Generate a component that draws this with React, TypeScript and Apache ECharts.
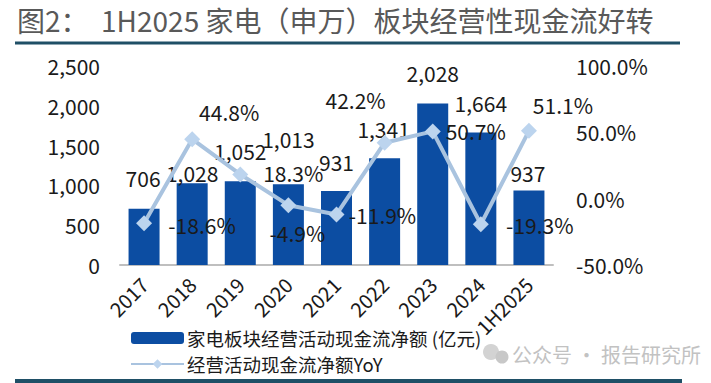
import React, { useEffect, useRef } from "react";
import * as echarts from "echarts";

const categories = ["2017", "2018", "2019", "2020", "2021", "2022", "2023", "2024", "1H2025"];
const cashFlow = [706, 1028, 1052, 1013, 931, 1341, 2028, 1664, 937];
const yoy = [-18.6, 44.8, 18.3, -4.9, -11.9, 42.2, 50.7, -19.3, 51.1];
const leftTicks = { min: 0, max: 2500, interval: 500 };
const rightTicks = { min: -50, max: 100, interval: 50 };
const barName = "家电板块经营活动现金流净额 (亿元)";
const lineName = "经营活动现金流净额YoY";
const titleText = "图2：  1H2025 家电（申万）板块经营性现金流好转";
const watermark = "公众号 · 报告研究所";

// label placement tweaks (pixels), not data
const barLabelOffsets = [[-1, -15], [0, 5], [0, -15], [0, -30], [0, -13], [-1, -14], [0, -15], [0, -14], [-1, -2]];
const yoyLabelOffsets = [[58, 2], [37, -27], [53, -1], [9, 28], [46, 1], [-29, -43], [43, 0], [59, 1], [34, -26]];

const FONT = '"Noto Sans CJK SC", "Noto Sans", sans-serif';
const TXT = "#1a1a1a";

export default function App() {
  const ref = useRef<HTMLDivElement>(null);
  useEffect(() => {
    const chart = echarts.init(ref.current!, null, { renderer: "svg" });
    chart.setOption({
      animation: false,
      backgroundColor: "#ffffff",
      textStyle: { fontFamily: FONT },
      grid: { left: 120, right: 158, top: 66, bottom: 118, containLabel: false },
      legend: {
        orient: "vertical",
        left: 130,
        top: 328,
        padding: 0,
        itemWidth: 53,
        itemHeight: 12,
        itemGap: 6,
        textStyle: { fontFamily: FONT, fontSize: 18.5, lineHeight: 20, color: TXT, padding: [0, 0, 0, -2] },
        data: [barName, lineName],
      },
      xAxis: {
        type: "category",
        data: categories,
        axisLine: { lineStyle: { color: "#bfbfbf", width: 2 } },
        axisTick: { show: false },
        axisLabel: { rotate: 45, fontSize: 20, color: TXT, margin: 16, interval: 0, fontFamily: FONT },
      },
      yAxis: [
        {
          type: "value",
          ...leftTicks,
          axisLine: { show: false },
          axisTick: { show: false },
          splitLine: { show: false },
          axisLabel: {
            fontSize: 21,
            color: TXT,
            margin: 20,
            fontFamily: FONT,
            formatter: (v: number) => v.toLocaleString("en-US"),
          },
        },
        {
          type: "value",
          ...rightTicks,
          axisLine: { show: false },
          axisTick: { show: false },
          splitLine: { show: false },
          axisLabel: {
            fontSize: 21,
            color: TXT,
            margin: 23,
            fontFamily: FONT,
            formatter: (v: number) => v.toFixed(1) + "%",
          },
        },
      ],
      series: [
        {
          name: barName,
          type: "bar",
          barWidth: 31,
          itemStyle: { color: "#0c4da2" },
          data: cashFlow.map((v, i) => ({
            value: v,
            label: { offset: barLabelOffsets[i] },
          })),
          label: {
            show: true,
            position: "top",
            distance: 5,
            fontSize: 21,
            color: TXT,
            fontFamily: FONT,
            formatter: (p: any) => Number(p.value).toLocaleString("en-US"),
          },
          z: 2,
        },
        {
          name: lineName,
          type: "line",
          yAxisIndex: 1,
          symbol: "diamond",
          symbolSize: 16,
          lineStyle: { color: "#a9c3df", width: 4 },
          itemStyle: { color: "#bcd4ee" },
          data: yoy.map((v, i) => ({
            value: v,
            label: { offset: yoyLabelOffsets[i] },
          })),
          label: {
            show: true,
            position: "inside",
            fontSize: 21,
            color: TXT,
            fontFamily: FONT,
            formatter: (p: any) => Number(p.value).toFixed(1) + "%",
          },
          z: 3,
        },
      ],
      graphic: [
        {
          type: "text",
          left: 17,
          top: 6,
          style: { text: titleText, fontSize: 28, fill: "#595959", fontFamily: FONT },
        },
        {
          type: "line",
          shape: { x1: 15, y1: 43, x2: 680, y2: 43 },
          style: { stroke: "#1f4f66", lineWidth: 3 },
        },
        {
          type: "line",
          shape: { x1: 15, y1: 381, x2: 682, y2: 381 },
          style: { stroke: "#1f4f66", lineWidth: 4 },
        },
        {
          type: "circle",
          shape: { cx: 491, cy: 352, r: 8 },
          style: { fill: "#d3d3d3" },
        },
        {
          type: "circle",
          shape: { cx: 502, cy: 357, r: 6.5 },
          style: { fill: "#c8c8c8" },
        },
        {
          type: "text",
          left: 512,
          top: 344,
          style: { text: watermark, fontSize: 20, fill: "#c2c2c2", fontFamily: FONT },
        },
      ],
    });
    return () => chart.dispose();
  }, []);
  return <div ref={ref} style={{ width: 711, height: 383, position: "absolute", left: 0, top: 0 }} />;
}
